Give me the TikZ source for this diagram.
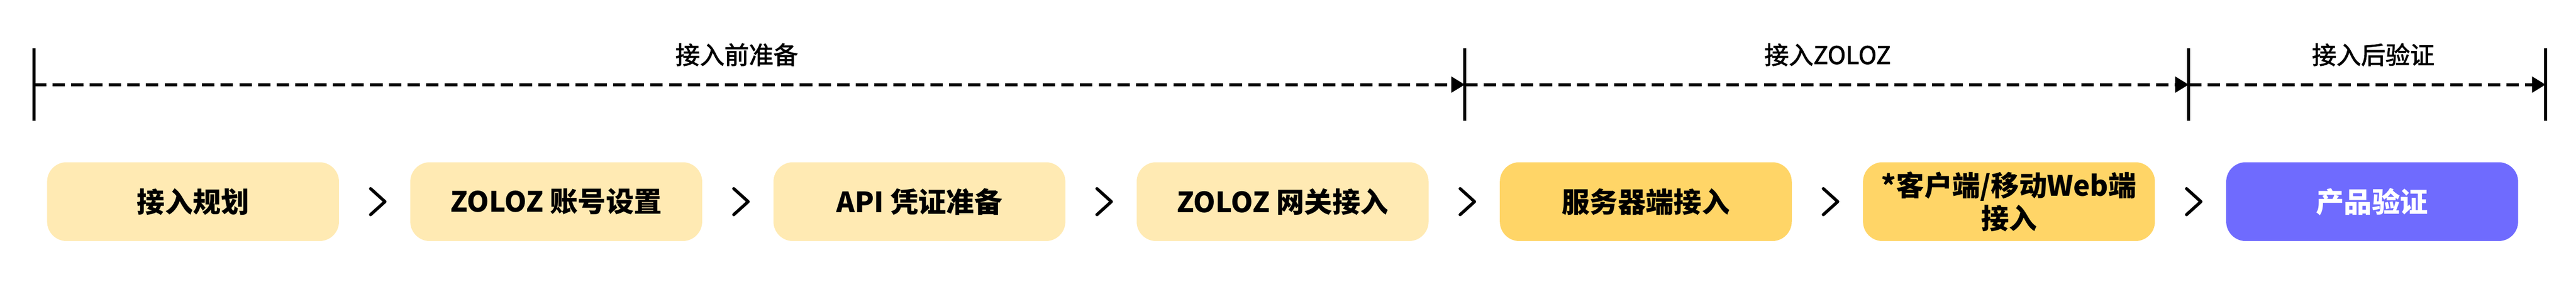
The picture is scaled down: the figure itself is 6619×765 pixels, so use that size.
\documentclass[tikz,border=0pt]{standalone}
\usepackage{fontspec}
\newfontfamily\cjk{Noto Sans CJK SC}
\newfontfamily\cjkm[FakeBold=2]{Noto Sans CJK SC}
\usetikzlibrary{arrows.meta,calc}
\definecolor{lightY}{HTML}{FFEAB3}
\definecolor{darkY}{HTML}{FFD567}
\definecolor{purp}{HTML}{6F6BFE}
\begin{document}
\begin{tikzpicture}[x=1pt,y=-1pt,
  stage/.style={rounded corners=50pt, minimum width=750pt, minimum height=203pt, inner sep=0pt, align=center, font=\cjk\bfseries\fontsize{72}{84}\selectfont, text=black},
  light/.style={stage, fill=lightY},
  dark/.style={stage, fill=darkY},
  final/.style={stage, fill=purp, text=white},
  chev/.style={line width=8pt, line cap=round, line join=round},
  tick/.style={line width=8pt},
  tl/.style={line width=8pt, dash pattern=on 32pt off 16pt, -{Triangle[length=35pt,width=40pt]}},
  lab/.style={font=\cjkm\fontsize{63}{70}\selectfont, anchor=base}
]
\useasboundingbox (0,0) rectangle (6619,765);
% timeline
\coordinate (t0) at (87,218);
\coordinate (t1) at (3764,218);
\coordinate (t2) at (5624,218);
\coordinate (t3) at (6541,218);
\foreach \t in {t0,t1,t2,t3}{
  \draw[tick] ($(\t)+(0,-93)$) -- ($(\t)+(0,93)$);
}
\draw[tl] (t0) -- (t1);
\draw[tl] (t1) -- (t2);
\draw[tl] (t2) -- (t3);
\node[lab] (l1) at (1893,165) {接入前准备};
\node[lab] (l2) at (4696,165) {接入ZOLOZ};
\node[lab] (l3) at (6098,165) {接入后验证};
% stages
\node[light] (b1) at (496,519.5) {接入规划};
\node[light] (b2) at (1429.2,519.5) {ZOLOZ 账号设置};
\node[light] (b3) at (2362.4,519.5) {API 凭证准备};
\node[light] (b4) at (3295.6,519.5) {ZOLOZ 网关接入};
\node[dark] (b5) at (4228.8,519.5) {服务器端接入};
\node[dark] (b6) at (5162,519.5) {*客户端/移动Web端\\接入};
\node[final] (b7) at (6095.2,519.5) {产品验证};
\foreach \a in {b1,b2,b3,b4,b5,b6}{
  \draw[chev] ($(\a.east)+(81,-33.5)$) -- ($(\a.east)+(118,0)$) -- ($(\a.east)+(81,33.5)$);
}
\end{tikzpicture}
\end{document}
